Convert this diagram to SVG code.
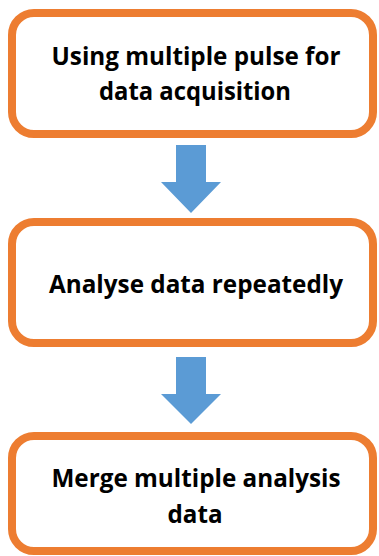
<svg xmlns="http://www.w3.org/2000/svg" width="379" height="556" viewBox="0 0 379 556">
<style>
.box{fill:#fff;stroke:#ED7D31;stroke-width:8}
.arr{fill:#5B9BD5}
.t{font-family:"Open Sans","Liberation Sans",sans-serif;font-weight:bold;font-size:25.5px;fill:#000;text-anchor:middle}
</style>
<rect width="379" height="556" fill="#fff"/>
<g id="n1">
<rect class="box" x="12" y="13" width="361" height="121" rx="22"/>
<text class="t" x="196" y="65" textLength="289" lengthAdjust="spacingAndGlyphs">Using multiple pulse for</text>
<text class="t" x="195" y="100" textLength="192" lengthAdjust="spacingAndGlyphs">data acquisition</text>
</g>
<g id="n2">
<rect class="box" x="12" y="222" width="361" height="121" rx="22"/>
<text class="t" x="196" y="293" textLength="294" lengthAdjust="spacingAndGlyphs">Analyse data repeatedly</text>
</g>
<g id="n3">
<rect class="box" x="12" y="436" width="361" height="115" rx="22"/>
<text class="t" x="196" y="487" textLength="289" lengthAdjust="spacingAndGlyphs">Merge multiple analysis</text>
<text class="t" x="195" y="523" textLength="55" lengthAdjust="spacingAndGlyphs">data</text>
</g>
<g id="connectors">
<polygon class="arr" points="176,145 206,145 206,182 221,182 191,213 161,182 176,182"/>
<polygon class="arr" points="176,357 206,357 206,394 221,394 191,424 161,394 176,394"/>
</g>
</svg>
